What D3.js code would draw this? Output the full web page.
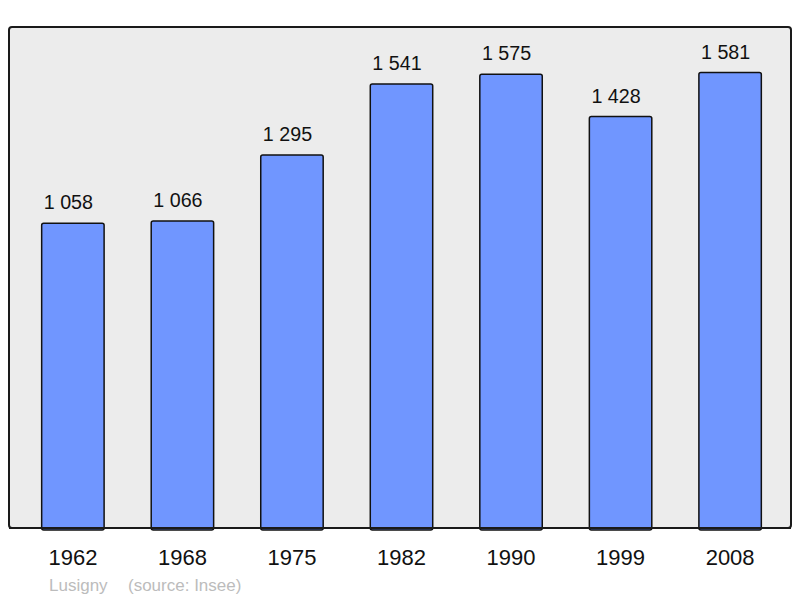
<!DOCTYPE html>
<html>
<head>
<meta charset="utf-8">
<script src="https://cdn.jsdelivr.net/npm/d3@7"></script>
<style>
  body { margin: 0; background: #fff; }
  svg text { font-family: "Liberation Sans", Arial, sans-serif; }
</style>
</head>
<body>
<div id="chart"></div>
<script>
const years = ["1962", "1968", "1975", "1982", "1990", "1999", "2008"];
const population = [1058, 1066, 1295, 1541, 1575, 1428, 1581];
const commune = "Lusigny";
const source = "(source: Insee)";

const width = 800, height = 598;
const panel = { left: 9, top: 27, right: 791, bottom: 528 };

const svg = d3.select("#chart")
    .append("svg")
    .attr("width", width)
    .attr("height", height);

svg.append("rect")
    .attr("x", panel.left)
    .attr("y", panel.top)
    .attr("width", panel.right - panel.left)
    .attr("height", panel.bottom - panel.top)
    .attr("rx", 3)
    .style("fill", "#ececec")
    .style("stroke", "#1a1a1a")
    .style("stroke-width", 2);

const x = d3.scaleBand()
    .domain(years)
    .range([11, 792])
    .paddingInner(0.43)
    .paddingOuter(0.28);

const y = d3.scaleLinear()
    .domain([0, d3.max(population) * 1.1])
    .range([panel.bottom, panel.top]);

const fmt = v => d3.format(",")(v).replace(",", " ");

const bars = svg.append("g")
    .selectAll("g")
    .data(years.map((yr, i) => ({ year: yr, value: population[i] })))
    .enter().append("g");

bars.append("rect")
    .attr("x", d => x(d.year))
    .attr("y", d => y(d.value))
    .attr("width", x.bandwidth())
    .attr("height", d => y(0) - y(d.value) + 2)
    .attr("rx", 2)
    .style("fill", "#7096ff")
    .style("stroke", "#111")
    .style("stroke-width", 1.5);

// redraw panel bottom edge over the bars
svg.append("line")
    .attr("x1", panel.left)
    .attr("x2", panel.right)
    .attr("y1", panel.bottom)
    .attr("y2", panel.bottom)
    .style("stroke", "#1a1a1a")
    .style("stroke-width", 2);

// labels sit a little left of the bar centre in the original
bars.append("text")
    .attr("x", d => x(d.year) + x.bandwidth() / 2 - 4.5)
    .attr("y", d => y(d.value) - 14)
    .attr("text-anchor", "middle")
    .style("font-size", "19.7px")
    .style("fill", "#111")
    .text(d => fmt(d.value));

const axis = d3.axisBottom(x).tickSize(0).tickPadding(0);

svg.append("g")
    .attr("transform", `translate(0, 549)`)
    .call(axis)
    .call(g => g.select(".domain").remove())
    .selectAll("text")
    .attr("dy", "0.71em")
    .style("font-family", "'Liberation Sans', Arial, sans-serif")
    .style("font-size", "22px")
    .style("fill", "#111");

svg.append("text")
    .attr("x", 49)
    .attr("y", 591)
    .style("font-size", "17px")
    .style("fill", "#bcbcbc")
    .text(commune);

svg.append("text")
    .attr("x", 128)
    .attr("y", 591)
    .style("font-size", "17px")
    .style("fill", "#bcbcbc")
    .text(source);
</script>
</body>
</html>
